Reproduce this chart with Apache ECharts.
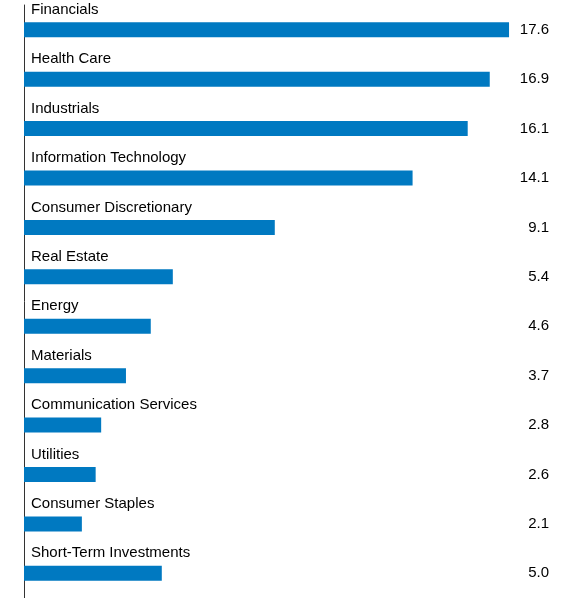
<!DOCTYPE html>
<html><head><meta charset="utf-8">
<script src="https://cdn.jsdelivr.net/npm/echarts@6/dist/echarts.min.js"></script>
<style>html,body{margin:0;padding:0;background:#fff}#main{width:573px;height:598px}</style>
</head><body><div id="main"></div>
<script>
var sectors = ["Financials","Health Care","Industrials","Information Technology","Consumer Discretionary","Real Estate","Energy","Materials","Communication Services","Utilities","Consumer Staples","Short-Term Investments"];
var weights = [17.6,16.9,16.1,14.1,9.1,5.4,4.6,3.7,2.8,2.6,2.1,5.0];
var valueLabels = weights.map(function(v){ return v.toFixed(1); });

var chart = echarts.init(document.getElementById('main'));
chart.setOption({
	animation: false,
	grid: { left: 24, right: 24, top: 5, bottom: -9 },
	xAxis: { type: 'value', min: 0, max: 19.05, show: false },
	yAxis: [{
		type: 'category', data: sectors, inverse: true,
		axisLine: { show: true, lineStyle: { color: '#333', width: 1 } },
		axisTick: { show: false }, axisLabel: { show: false }
	}, {
		type: 'category', data: valueLabels, inverse: true, position: 'right',
		axisLine: { show: false }, axisTick: { show: false },
		axisLabel: { inside: true, margin: 0, color: '#000', fontSize: 15, fontFamily: 'Liberation Sans', padding: [6,0,0,0] }
	}],
	series: [{
		type: 'bar', data: weights, barWidth: 15,
		itemStyle: { color: '#0079c1' },
		label: {
			show: true, position: [7, -20], formatter: '{b}',
			color: '#000', fontSize: 15, fontFamily: 'Liberation Sans'
		}
	}]
});
</script></body></html>
